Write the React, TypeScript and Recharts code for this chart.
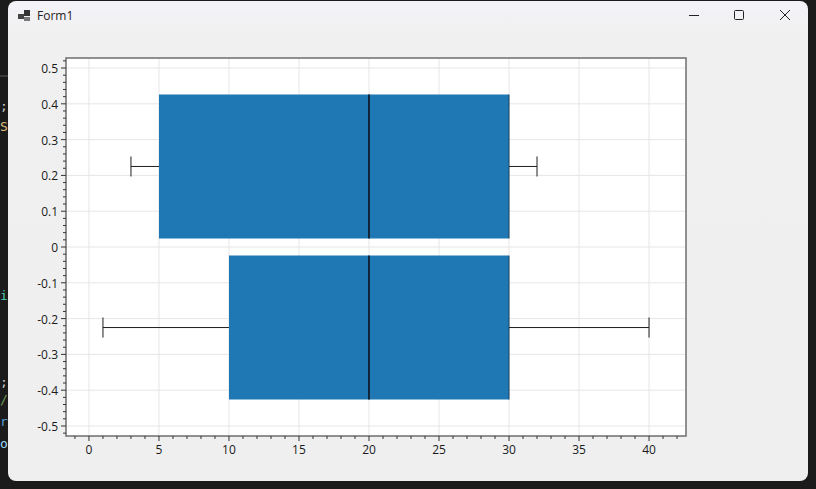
import React from "react";
import { CartesianGrid, ReferenceArea, ReferenceLine, Scatter, ScatterChart, XAxis, YAxis } from "recharts";

const boxNames = ["upper", "lower"];
const lows = [3, 1];
const q1s = [5, 10];
const medians = [20, 20];
const q3s = [30, 30];
const highs = [32, 40];
const boxCenters = [0.225, -0.225];

const xLabels = [0, 5, 10, 15, 20, 25, 30, 35, 40];
const xMinorTicks = [-1, 0, 1, 2, 3, 4, 5, 6, 7, 8, 9, 10, 11, 12, 13, 14, 15, 16, 17, 18, 19, 20, 21, 22, 23, 24, 25, 26, 27, 28, 29, 30, 31, 32, 33, 34, 35, 36, 37, 38, 39, 40, 41, 42];
const yLabels = [-0.5, -0.4, -0.3, -0.2, -0.1, 0, 0.1, 0.2, 0.3, 0.4, 0.5];
const yMinorTicks = [-0.52, -0.5, -0.48, -0.46, -0.44, -0.42, -0.4, -0.38, -0.36, -0.34, -0.32, -0.3, -0.28, -0.26, -0.24, -0.22, -0.2, -0.18, -0.16, -0.14, -0.12, -0.1, -0.08, -0.06, -0.04, -0.02, 0, 0.02, 0.04, 0.06, 0.08, 0.1, 0.12, 0.14, 0.16, 0.18, 0.2, 0.22, 0.24, 0.26, 0.28, 0.3, 0.32, 0.34, 0.36, 0.38, 0.4, 0.42, 0.44, 0.46, 0.48, 0.5, 0.52];

const boxHalf = 0.201;
const capHalf = 0.028;

// bits of the code editor showing behind the window
const editorBits = [
  { text: ";", top: 98, color: "#c8c8c8" },
  { text: "So", top: 119, color: "#d7ba7d" },
  { text: "i", top: 288, color: "#4ec9b0" },
  { text: ";", top: 374, color: "#c8c8c8" },
  { text: "/", top: 392, color: "#6a9955" },
  { text: "ra", top: 414, color: "#569cd6" },
  { text: "oo", top: 436, color: "#9cdcfe" },
];

const isMajor = (list: number[], v: number) => list.some((m) => Math.abs(m - v) < 1e-6);

function XTick({ x, y, payload }: any) {
  const major = isMajor(xLabels, payload.value);
  return (
    <g>
      <line x1={x} x2={x} y1={y - 8} y2={y - 8 + (major ? 5 : 3)} stroke="#333" />
      {major && (
        <text x={x} y={y + 10} textAnchor="middle" fontSize={12} fill="#1a1a1a" fontFamily="Open Sans, sans-serif">
          {payload.value}
        </text>
      )}
    </g>
  );
}

function YTick({ x, y, payload }: any) {
  const major = isMajor(yLabels, payload.value);
  return (
    <g>
      <line x1={x + 8} x2={x + 8 - (major ? 5 : 3)} y1={y} y2={y} stroke="#333" />
      {major && (
        <text x={x} y={y + 5} textAnchor="end" fontSize={12} fill="#1a1a1a" fontFamily="Open Sans, sans-serif">
          {payload.value}
        </text>
      )}
    </g>
  );
}

function NoDot() {
  return <g />;
}

export default function App() {
  return (
    <div style={{ position: "fixed", left: 0, top: 0, width: 816, height: 489, background: "#1b1b1b", overflow: "hidden" }}>
      <div style={{ position: "absolute", left: 0, top: 75, width: 8, height: 2, background: "#3a3a3a" }} />
      {editorBits.map((b) => (
        <div
          key={b.top}
          style={{ position: "absolute", left: 0, top: b.top, fontFamily: "DejaVu Sans Mono, monospace", fontSize: 13, color: b.color, whiteSpace: "nowrap" }}
        >
          {b.text}
        </div>
      ))}
      <div
        style={{
          position: "absolute",
          left: 8,
          top: 1,
          width: 800,
          height: 480,
          borderRadius: 8,
          background: "linear-gradient(#f3f3f9 0px, #f0f0f0 34px, #efefef 100%)",
        }}
      >
        <svg width={14} height={12} style={{ position: "absolute", left: 10, top: 9 }}>
          <rect x={0} y={4} width={6} height={5} fill="#444" />
          <rect x={6} y={0} width={6} height={6} fill="#333" />
          <rect x={6} y={7} width={6} height={4} fill="#777" />
        </svg>
        <div style={{ position: "absolute", left: 29, top: 6, fontFamily: "Open Sans, sans-serif", fontSize: 12, color: "#222" }}>Form1</div>
        <svg width={800} height={30} style={{ position: "absolute", left: 0, top: 0 }}>
          <line x1={681} x2={691} y1={14.5} y2={14.5} stroke="#222" />
          <rect x={726.5} y={9.5} width={9} height={9} rx={1} fill="none" stroke="#222" />
          <path d="M772 9 L782 19 M782 9 L772 19" stroke="#222" fill="none" />
        </svg>
      </div>
      <div style={{ position: "absolute", left: 66, top: 58, width: 620, height: 378, background: "#fff" }} />
      <div style={{ position: "absolute", left: 0, top: 0 }}>
        <ScatterChart width={816} height={489} margin={{ top: 58, right: 130, bottom: 0, left: 0 }}>
          <CartesianGrid stroke="#e6e6e6" verticalValues={xLabels} horizontalValues={yLabels} />
          <XAxis
            type="number"
            dataKey="x"
            domain={[-1.64, 42.64]}
            ticks={xMinorTicks}
            interval={0}
            tick={<XTick />}
            tickLine={false}
            axisLine={false}
            height={53}
            allowDataOverflow
          />
          <YAxis
            type="number"
            dataKey="y"
            domain={[-0.528, 0.528]}
            ticks={yMinorTicks}
            interval={0}
            tick={<YTick />}
            tickLine={false}
            axisLine={false}
            width={66}
            allowDataOverflow
          />
          {boxNames.map((name, i) => (
            <ReferenceArea
              key={name + "-box"}
              x1={q1s[i]}
              x2={q3s[i]}
              y1={boxCenters[i] - boxHalf}
              y2={boxCenters[i] + boxHalf}
              fill="#1f77b4"
              fillOpacity={1}
              stroke="none"
            />
          ))}
          {boxNames.map((name, i) => (
            <ReferenceLine
              key={name + "-q3"}
              stroke="#1b4464"
              segment={[{ x: q3s[i], y: boxCenters[i] - boxHalf }, { x: q3s[i], y: boxCenters[i] + boxHalf }]}
            />
          ))}
          {boxNames.map((name, i) => (
            <Scatter
              key={name + "-median"}
              data={[{ x: medians[i], y: boxCenters[i] - boxHalf }, { x: medians[i], y: boxCenters[i] + boxHalf }]}
              line={{ stroke: "#10263a", strokeWidth: 2 }}
              shape={<NoDot />}
              isAnimationActive={false}
            />
          ))}
          {boxNames.map((name, i) => (
            <Scatter
              key={name + "-lower-whisker"}
              data={[{ x: lows[i], y: boxCenters[i] }, { x: q1s[i], y: boxCenters[i] }]}
              line={{ stroke: "#1e1e1e" }}
              shape={<NoDot />}
              isAnimationActive={false}
            />
          ))}
          {boxNames.map((name, i) => (
            <Scatter
              key={name + "-upper-whisker"}
              data={[{ x: q3s[i], y: boxCenters[i] }, { x: highs[i], y: boxCenters[i] }]}
              line={{ stroke: "#1e1e1e" }}
              shape={<NoDot />}
              isAnimationActive={false}
            />
          ))}
          {boxNames.map((name, i) => (
            <Scatter
              key={name + "-lower-cap"}
              data={[{ x: lows[i], y: boxCenters[i] - capHalf }, { x: lows[i], y: boxCenters[i] + capHalf }]}
              line={{ stroke: "#1e1e1e" }}
              shape={<NoDot />}
              isAnimationActive={false}
            />
          ))}
          {boxNames.map((name, i) => (
            <Scatter
              key={name + "-upper-cap"}
              data={[{ x: highs[i], y: boxCenters[i] - capHalf }, { x: highs[i], y: boxCenters[i] + capHalf }]}
              line={{ stroke: "#1e1e1e" }}
              shape={<NoDot />}
              isAnimationActive={false}
            />
          ))}
          <rect x={66} y={58} width={620} height={378} fill="none" stroke="#6e6e6e" strokeWidth={1.5} />
        </ScatterChart>
      </div>
    </div>
  );
}
